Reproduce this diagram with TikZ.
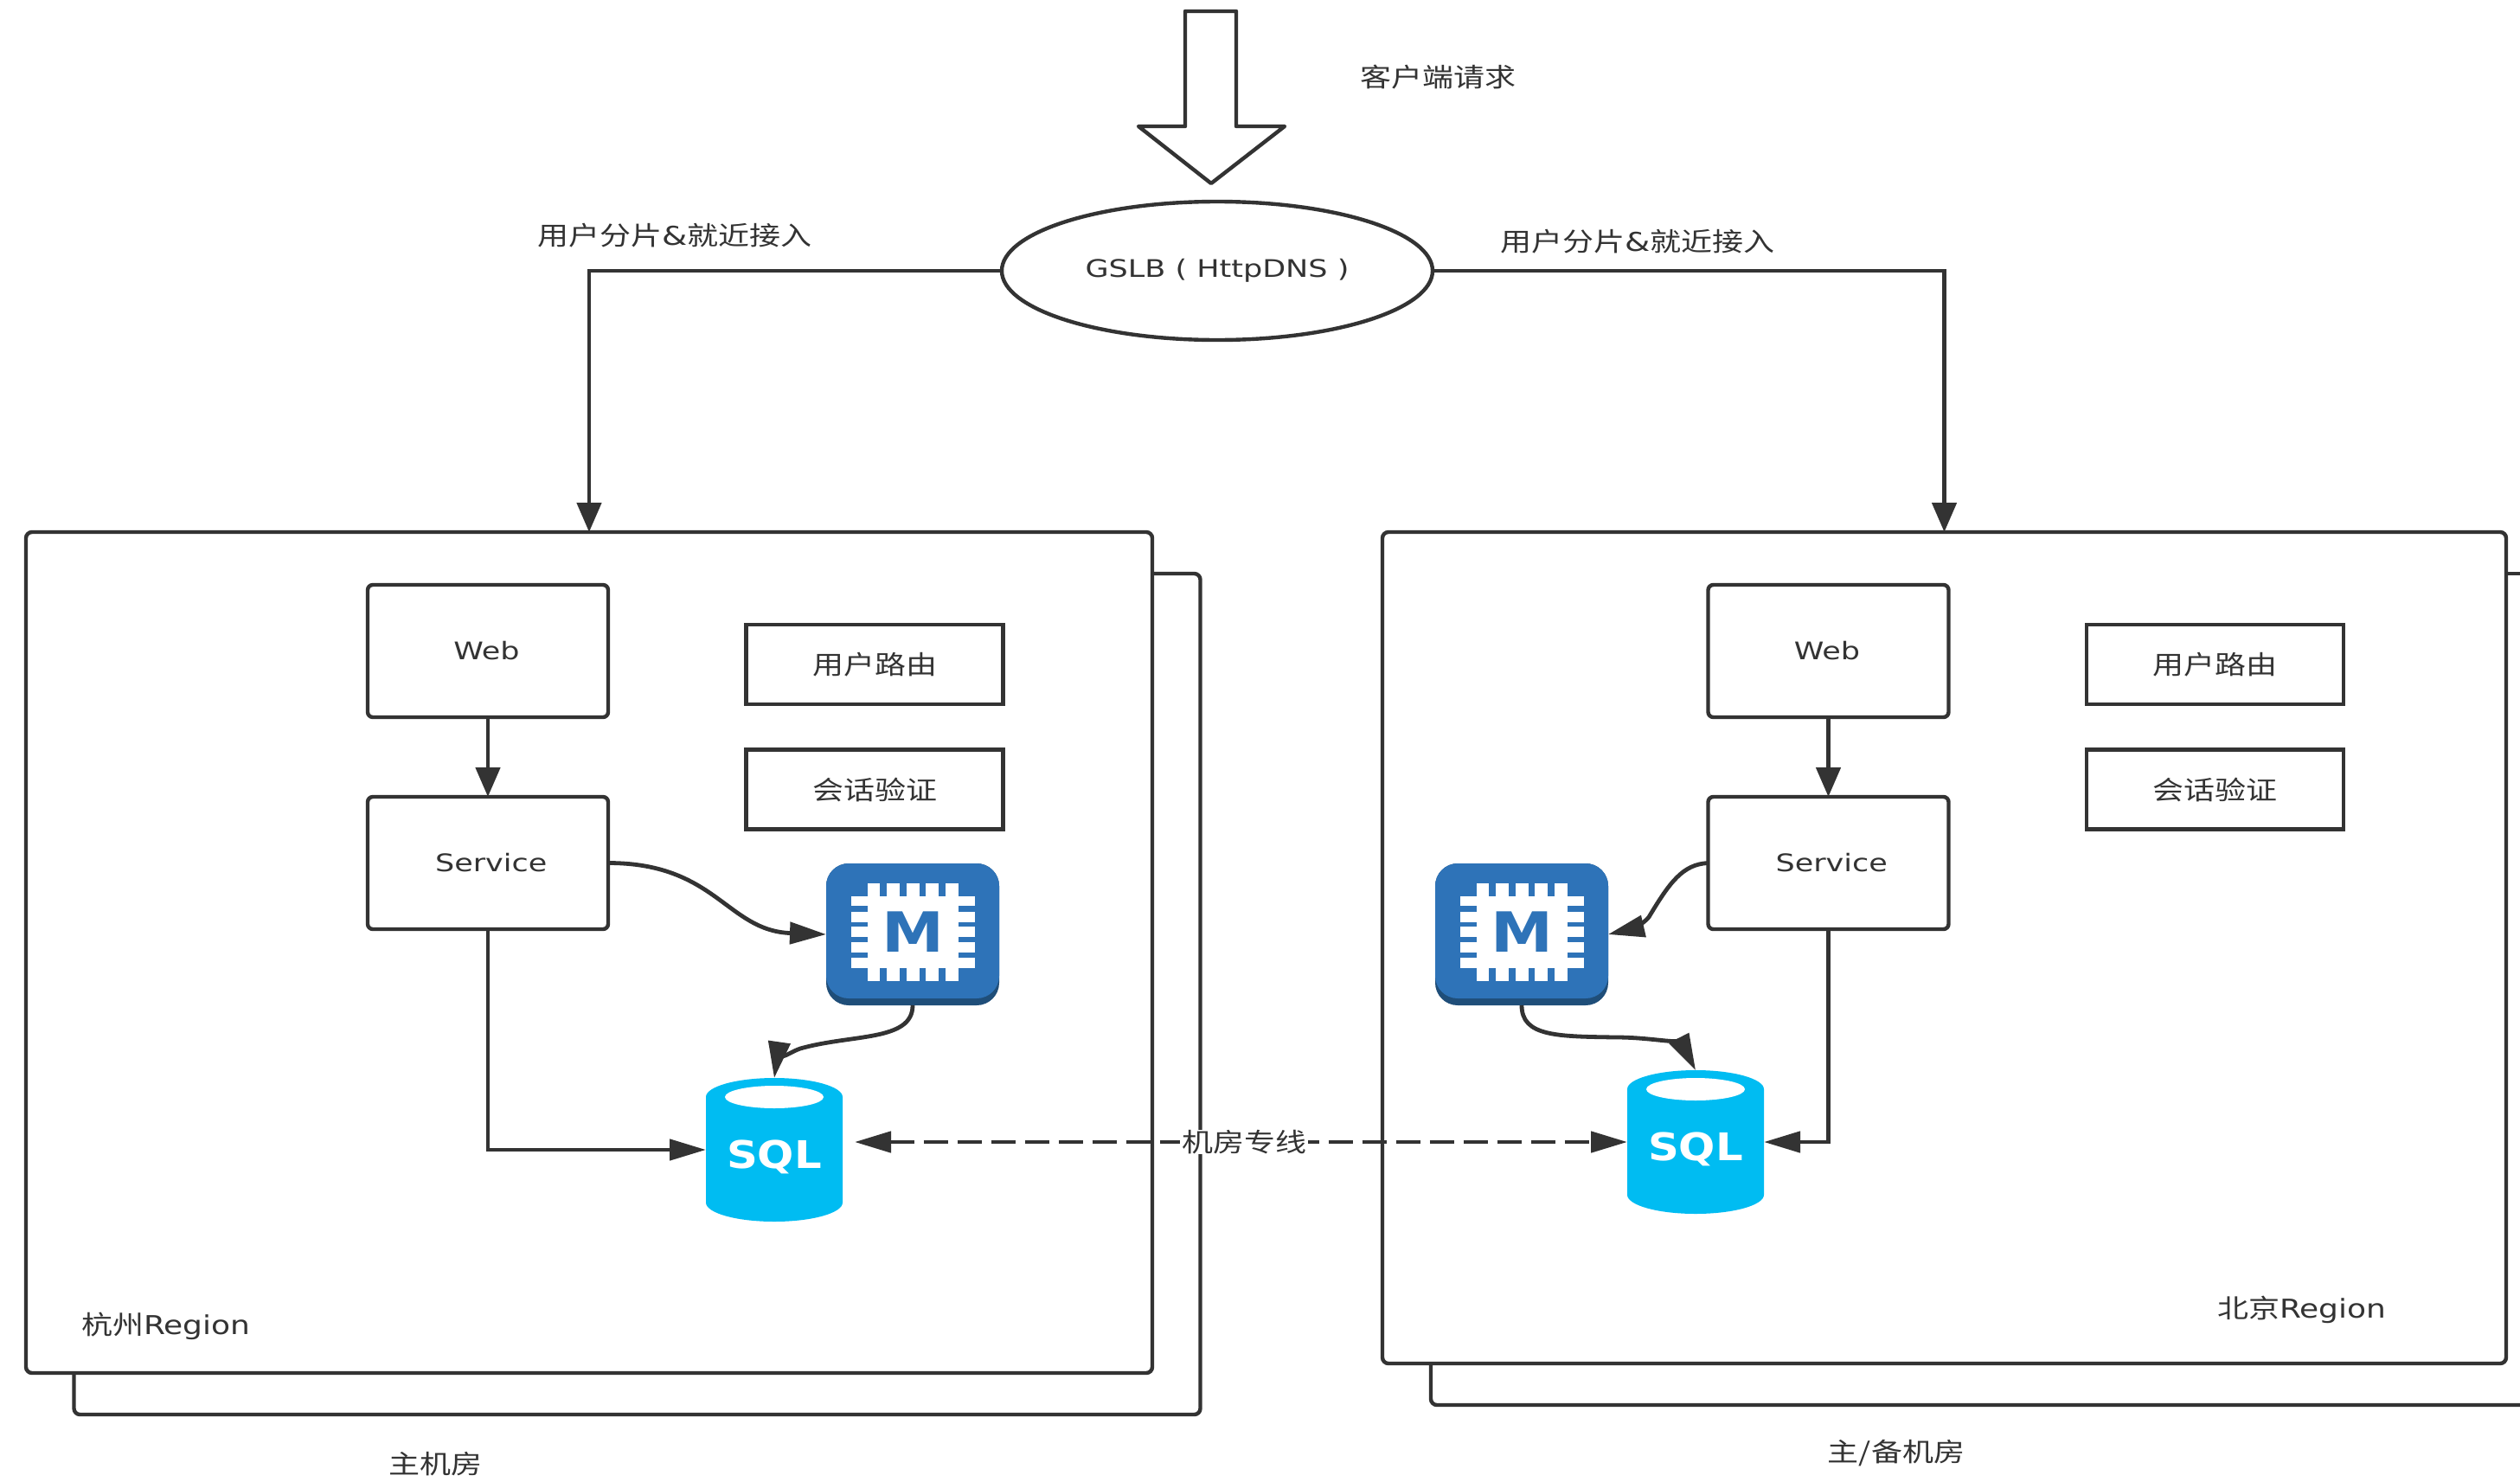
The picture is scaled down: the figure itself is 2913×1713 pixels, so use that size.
\documentclass[tikz,border=0pt]{standalone}
\usepackage{fontspec}
\usetikzlibrary{arrows.meta,shapes.geometric}
\newfontfamily\cjk[FakeStretch=1.2]{Noto Sans CJK SC}
\newfontfamily\lat[FakeStretch=1.25]{DejaVu Sans}
\newfontfamily\latcap[FakeStretch=1.2]{DejaVu Sans}
\newfontfamily\iconfont[FakeStretch=1.13]{DejaVu Sans}
\definecolor{ink}{HTML}{333333}
\definecolor{chipblue}{HTML}{2E73B8}
\definecolor{chipdark}{HTML}{1F4E79}
\definecolor{sqlblue}{HTML}{00BCF2}
\newcommand{\dn}[1]{\raisebox{-0.8pt}{#1}}
\newcommand{\dnl}[1]{\raisebox{-1.6pt}{#1}}
\tikzset{
  regionbox/.style={draw=ink,line width=2.2pt,rounded corners=3.5pt,fill=white,inner sep=0pt,outer sep=0pt},
  svcbox/.style={draw=ink,line width=2.2pt,rounded corners=3pt,fill=white,inner sep=0pt,outer sep=0pt,
    minimum width=139pt,minimum height=76.5pt,text=ink,font=\lat\fontsize{14}{16}\selectfont},
  funcbox/.style={draw=ink,line width=2.4pt,fill=white,inner sep=0pt,outer sep=0pt,
    minimum width=148.5pt,minimum height=46pt,text=ink,font=\cjk\fontsize{15}{18}\selectfont},
  label/.style={text=ink,inner sep=0pt,font=\cjk\fontsize{15}{18}\selectfont},
  conn/.style={draw=ink,line width=2.4pt},
  vtip/.style={-{Triangle[length=17pt,width=14pt]}},
  htip/.style={-{Triangle[length=21pt,width=12pt]}},
  ctip/.style={-{Triangle[length=21pt,width=12.5pt]}},
}
\newcommand{\chipicon}[3]{%
  \node[fill=chipdark,rounded corners=13pt,inner sep=0pt,outer sep=0pt,minimum width=100pt,minimum height=82pt] (#1) at (#2,#3) {};
  \begin{scope}[shift={(#2,#3)}]
    \fill[chipblue,rounded corners=13pt] (-100,-82) rectangle (100,74);
    \foreach \a/\b in {-52/-38,-30/-15,-7/8,15/30,38/53}{
      \fill[white] (\a,-59) rectangle (\b,54);
    }
    \foreach \a/\b in {-44/-33,-26/-14,-9/3,9/21,27/39}{
      \fill[white] (-71,\a) rectangle (72,\b);
    }
    \fill[white] (-52,-44) rectangle (53,39);
    \node[anchor=base,text=chipblue,inner sep=0pt,font=\iconfont\bfseries\fontsize{32}{32}\selectfont] at (0,20) {M};
  \end{scope}}
\newcommand{\sqlicon}[3]{%
  \node[inner sep=0pt,outer sep=0pt,minimum width=79pt,minimum height=83pt] (#1) at (#2,#3) {};
  \begin{scope}[shift={(#2,#3)}]
    \fill[sqlblue] (-79,-61) .. controls (-79,-73) and (-44,-83) .. (0,-83)
      .. controls (44,-83) and (79,-73) .. (79,-61) -- (79,61)
      .. controls (79,73) and (44,83) .. (0,83)
      .. controls (-44,83) and (-79,73) .. (-79,61) -- cycle;
    \fill[white] (0,-61) ellipse [x radius=57,y radius=13];
    \node[anchor=base,text=white,inner sep=0pt,font=\iconfont\bfseries\fontsize{22}{22}\selectfont] at (0,21) {SQL};
  \end{scope}}
\begin{document}
\begin{tikzpicture}[x=0.5pt,y=-0.5pt]
\fill[white] (0,0) rectangle (2913,1713);
\clip (0,0) rectangle (2913,1713);

% back frames
\node[regionbox,minimum width=651pt,minimum height=486pt] (hzback) at (736.5,1149) {};
\draw[draw=ink,line width=2.2pt,rounded corners=3.5pt] (1654,1570) |- (2913,1624);
\draw[draw=ink,line width=2.2pt] (2890,663) -- (2913,663);

% front frames
\node[regionbox,minimum width=651pt,minimum height=486pt] (hz) at (681,1101) {};
\node[regionbox,minimum width=649.5pt,minimum height=480.5pt] (bj) at (2247.5,1095.5) {};

% client arrow
\draw[draw=ink,line width=2.2pt,fill=white,line join=round] (1370,13) -- (1429,13) -- (1429,146) -- (1485,146) -- (1400,212) -- (1316,146) -- (1370,146) -- cycle;
\node[label] (client) at (1662,89) {客户端请求};

% GSLB
\node[ellipse,draw=ink,line width=2.2pt,fill=white,inner sep=0pt,outer sep=0pt,minimum width=249pt,minimum height=80pt,text=ink,font=\lat\fontsize{14}{16}\selectfont] (gslb) at (1407,313) {\dnl{GSLB ( HttpDNS )}};
\draw[conn,vtip] (gslb.west) -| (hz.north);
\draw[conn,vtip] (gslb.east) -| (bj.north);
\node[label] (lbl1) at (780,272) {用户分片{\lat\&}就近接入};
\node[label] (lbl2) at (1893,279) {用户分片{\lat\&}就近接入};

% Hangzhou contents
\node[svcbox] (web1) at (564,752.5) {\dnl{\hspace*{-1.5pt}Web}};
\node[svcbox] (svc1) at (564,997.5) {\dnl{\hspace*{3.7pt}Service}};
\node[funcbox] (route1) at (1011,768) {\dn{用户路由}};
\node[funcbox] (sess1) at (1011,912.5) {\dn{会话验证}};
\chipicon{mem1}{1055}{1080}
\sqlicon{sql1}{895}{1329}

% Beijing contents
\node[svcbox] (web2) at (2113.5,752.5) {\dnl{\hspace*{-1.5pt}Web}};
\node[svcbox] (svc2) at (2113.5,997.5) {\dnl{\hspace*{3.7pt}Service}};
\node[funcbox] (route2) at (2560.5,768) {\dn{用户路由}};
\node[funcbox] (sess2) at (2560.5,912.5) {\dn{会话验证}};
\chipicon{mem2}{1759}{1080}
\sqlicon{sql2}{1960}{1320}

% connectors
\draw[conn,vtip] (web1) -- (svc1);
\draw[conn,vtip] (web2) -- (svc2);
\draw[conn,htip] (svc1.south) |- (sql1.west);
\draw[conn,htip] (svc2.south) |- (sql2.east);
\draw[conn,ctip] (svc1.east) .. controls +(125,0) and +(-115,-4) .. (mem1.west);
\draw[conn,ctip] (mem1.south) .. controls +(0,42) and (985,1195) .. (925,1212) .. controls (908,1218) and (897,1232) .. (sql1.north);
\draw[conn,ctip] (svc2.west) .. controls (1945,999) and (1930,1020) .. (1906,1060) .. controls (1900,1068) and (1885,1074) .. (mem2.east);
\draw[conn,ctip] (mem2.south) .. controls +(0,36) and (1800,1198) .. (1868,1199) .. controls (1910,1199) and (1945,1208) .. (sql2.north);
\coordinate (dashl) at (988,1320);
\draw[conn,dash pattern=on 14pt off 5.5pt,{Triangle[length=21pt,width=12pt]}-{Triangle[length=21pt,width=12pt]}] (dashl) -- (sql2.west);
\node[label,fill=white,inner xsep=1pt] (dedicated) at (1438,1320) {机房专线};

% region captions
\node[label] (hzname) at (192,1533) {杭州{\latcap Region}};
\node[label] (bjname) at (2661,1514) {北京{\latcap Region}};
\node[label] (hzcap) at (503,1692) {主机房};
\node[label] (bjcap) at (2192,1680) {主/备机房};
\end{tikzpicture}
\end{document}
